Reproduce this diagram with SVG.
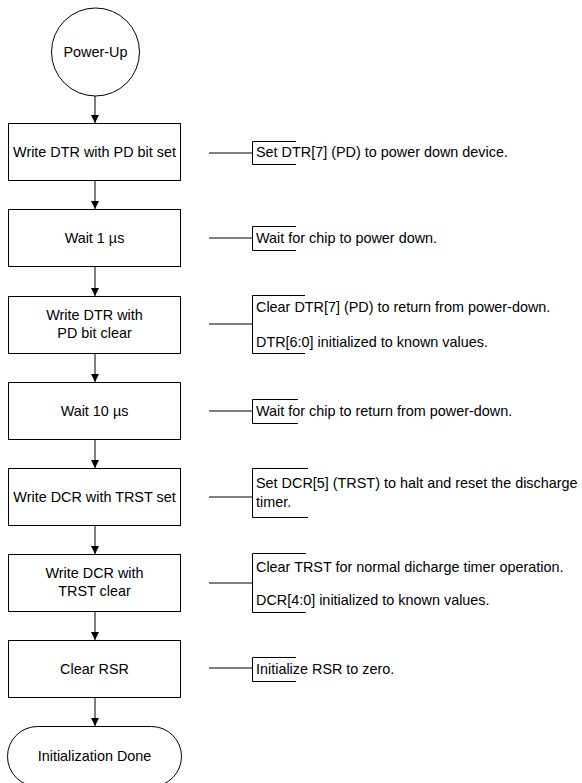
<svg xmlns="http://www.w3.org/2000/svg" width="582" height="783" viewBox="0 0 582 783">
<defs>
<marker id="ah" markerWidth="8" markerHeight="8" refX="8" refY="4" orient="auto" markerUnits="userSpaceOnUse">
<path d="M0,0 L8,4 L0,8 Z" fill="#000"/>
</marker>
<style>
.n{fill:#fff;stroke:#000;stroke-width:1}
.t{font-family:"Liberation Sans",Arial,sans-serif;font-size:14.4px;fill:#000}
.c{text-anchor:middle}
.l{fill:none;stroke:#000;stroke-width:1}
</style>
</defs>
<rect width="582" height="783" fill="#fff"/>
<g id="connectors">
<line class="l" x1="95" y1="96" x2="95" y2="123" marker-end="url(#ah)"/>
<line class="l" x1="95" y1="181" x2="95" y2="209" marker-end="url(#ah)"/>
<line class="l" x1="95" y1="267" x2="95" y2="296" marker-end="url(#ah)"/>
<line class="l" x1="95" y1="353" x2="95" y2="382" marker-end="url(#ah)"/>
<line class="l" x1="95" y1="439" x2="95" y2="468" marker-end="url(#ah)"/>
<line class="l" x1="95" y1="525" x2="95" y2="554" marker-end="url(#ah)"/>
<line class="l" x1="95" y1="611" x2="95" y2="640" marker-end="url(#ah)"/>
<line class="l" x1="95" y1="697" x2="95" y2="726" marker-end="url(#ah)"/>
<line class="l" x1="209" y1="153" x2="252" y2="153"/>
<line class="l" x1="209" y1="238" x2="252" y2="238"/>
<line class="l" x1="209" y1="324" x2="252" y2="324"/>
<line class="l" x1="209" y1="411" x2="252" y2="411"/>
<line class="l" x1="209" y1="497" x2="252" y2="497"/>
<line class="l" x1="209" y1="583" x2="252" y2="583"/>
<line class="l" x1="209" y1="668" x2="252" y2="668"/>
</g>
<g id="start">
<circle class="n" cx="95.5" cy="52" r="44"/>
<text class="t c" x="95.5" y="57">Power-Up</text>
</g>
<g id="step1">
<rect class="n" x="8.5" y="123.5" width="172" height="57"/>
<text class="t c" x="94.5" y="157">Write DTR with PD bit set</text>
</g>
<g id="step2">
<rect class="n" x="8.5" y="209.5" width="172" height="57"/>
<text class="t c" x="94.5" y="243">Wait 1 µs</text>
</g>
<g id="step3">
<rect class="n" x="8.5" y="296.5" width="172" height="57"/>
<text class="t c" x="94.5" y="320">Write DTR with</text>
<text class="t c" x="94.5" y="338">PD bit clear</text>
</g>
<g id="step4">
<rect class="n" x="8.5" y="382.5" width="172" height="57"/>
<text class="t c" x="94.5" y="416">Wait 10 µs</text>
</g>
<g id="step5">
<rect class="n" x="8.5" y="468.5" width="172" height="57"/>
<text class="t c" x="94.5" y="502">Write DCR with TRST set</text>
</g>
<g id="step6">
<rect class="n" x="8.5" y="554.5" width="172" height="57"/>
<text class="t c" x="94.5" y="578">Write DCR with</text>
<text class="t c" x="94.5" y="596">TRST clear</text>
</g>
<g id="step7">
<rect class="n" x="8.5" y="640.5" width="172" height="57"/>
<text class="t c" x="94.5" y="674">Clear RSR</text>
</g>
<g id="end">
<rect class="n" x="7.5" y="726.5" width="174" height="60" rx="30" ry="30"/>
<text class="t c" x="94.5" y="761">Initialization Done</text>
</g>
<g id="note1">
<path class="l" d="M296,141.5 H252.5 V164.5 H296"/>
<text class="t" x="256" y="157">Set DTR[7] (PD) to power down device.</text>
</g>
<g id="note2">
<path class="l" d="M296,226.5 H252.5 V250.5 H296"/>
<text class="t" x="256" y="243">Wait for chip to power down.</text>
</g>
<g id="note3">
<path class="l" d="M305,295.5 H252.5 V353.5 H305"/>
<text class="t" x="256" y="312">Clear DTR[7] (PD) to return from power-down.</text>
<text class="t" x="256" y="347">DTR[6:0] initialized to known values.</text>
</g>
<g id="note4">
<path class="l" d="M298,399.5 H252.5 V423.5 H298"/>
<text class="t" x="256" y="416">Wait for chip to return from power-down.</text>
</g>
<g id="note5">
<path class="l" d="M308,468.5 H252.5 V517.5 H308"/>
<text class="t" x="256" y="488">Set DCR[5] (TRST) to halt and reset the discharge</text>
<text class="t" x="256" y="507">timer.</text>
</g>
<g id="note6">
<path class="l" d="M306,553.5 H252.5 V612.5 H306"/>
<text class="t" x="256" y="572">Clear TRST for normal dicharge timer operation.</text>
<text class="t" x="256" y="605">DCR[4:0] initialized to known values.</text>
</g>
<g id="note7">
<path class="l" d="M296,657.5 H252.5 V681.5 H296"/>
<text class="t" x="256" y="674">Initialize RSR to zero.</text>
</g>
</svg>
